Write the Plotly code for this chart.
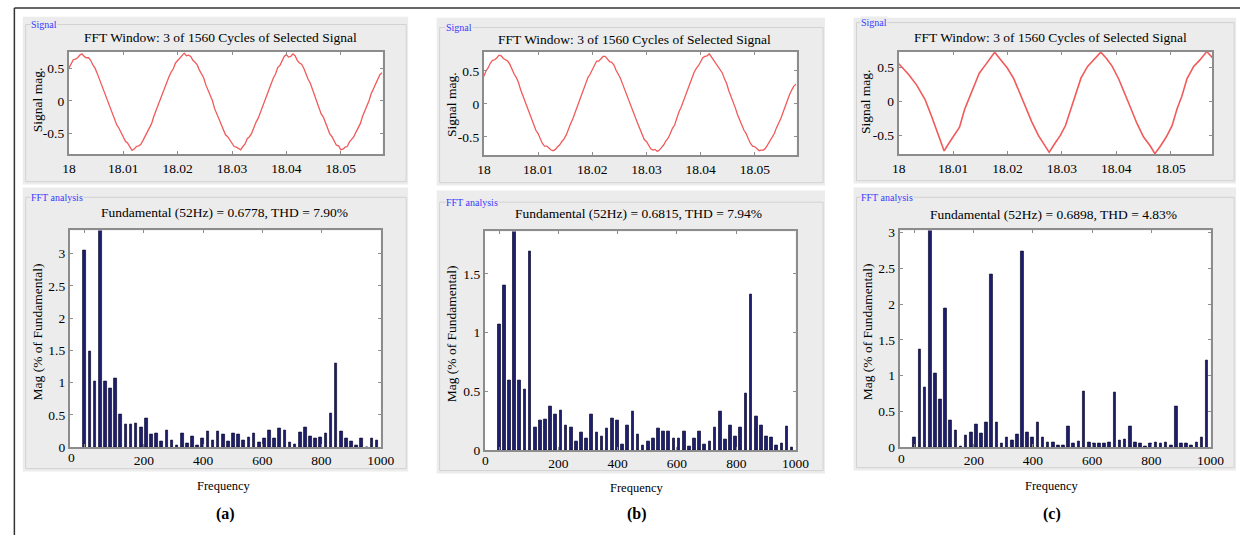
import plotly.graph_objects as go

W, H = 1254, 543
SERIF = "Liberation Serif"

# ---------------------------------------------------------------- data
# FFT bins: a 3-cycle window at 52 Hz gives a resolution of 52/3 Hz
BIN_HZ = 52 / 3
freq_hz = [k * BIN_HZ for k in range(58)]

# Harmonic magnitude, % of fundamental (bin 3 is the 52 Hz fundamental itself)
mag_a = [3.05, 1.48, 1.02, 100, 1.02, 0.91, 1.06, 0.50, 0.35, 0.35, 0.36, 0.31,
         0.45, 0.20, 0.21, 0.09, 0.26, 0.11, 0.03, 0.22, 0.05, 0.16, 0.02, 0.13,
         0.25, 0.10, 0.24, 0.19, 0.09, 0.22, 0.19, 0.10, 0.15, 0.21, 0.08, 0.13,
         0.26, 0.13, 0.29, 0.26, 0.08, 0.04, 0.23, 0.31, 0.17, 0.14, 0.15, 0.21,
         0.52, 1.30, 0.24, 0.14, 0.09, 0.03, 0.14, 0.00, 0.13, 0.11]
mag_b = [1.07, 1.40, 0.59, 100, 0.59, 0.52, 1.69, 0.19, 0.25, 0.26, 0.37, 0.30,
         0.34, 0.21, 0.19, 0.07, 0.15, 0.10, 0.30, 0.15, 0.12, 0.18, 0.27, 0.25,
         0.05, 0.21, 0.33, 0.13, 0.04, 0.07, 0.10, 0.18, 0.16, 0.16, 0.10, 0.10,
         0.16, 0.03, 0.10, 0.16, 0.05, 0.07, 0.19, 0.33, 0.09, 0.21, 0.12, 0.19,
         0.48, 1.32, 0.29, 0.21, 0.12, 0.11, 0.04, 0.06, 0.20, 0.02]
mag_c = [0.14, 1.37, 0.84, 100, 1.03, 0.67, 1.94, 0.37, 0.23, 0.01, 0.16, 0.20,
         0.32, 0.19, 0.35, 2.42, 0.35, 0.05, 0.13, 0.10, 0.18, 2.74, 0.20, 0.14,
         0.34, 0.14, 0.06, 0.07, 0.02, 0.02, 0.29, 0.05, 0.08, 0.78, 0.07, 0.05,
         0.05, 0.05, 0.07, 0.77, 0.09, 0.11, 0.29, 0.06, 0.05, 0.01, 0.05, 0.07,
         0.05, 0.07, 0.02, 0.57, 0.05, 0.05, 0.03, 0.06, 0.14, 1.21]

# Measured signals, sampled every 0.4 ms from t = 18 s
T0, DT = 18.0, 0.0004
sig_a = [0.50, 0.57, 0.63, 0.64, 0.66, 0.70, 0.72, 0.68, 0.66, 0.66, 0.62, 0.55,
         0.50, 0.42, 0.33, 0.26, 0.18, 0.07, -0.02, -0.09, -0.18, -0.29, -0.37, -0.42,
         -0.49, -0.57, -0.62, -0.65, -0.71, -0.76, -0.74, -0.70, -0.69, -0.67, -0.61, -0.55,
         -0.47, -0.42, -0.35, -0.24, -0.15, -0.08, 0.01, 0.12, 0.20, 0.27, 0.37, 0.44,
         0.49, 0.58, 0.62, 0.66, 0.70, 0.73, 0.69, 0.70, 0.68, 0.62, 0.59, 0.55,
         0.47, 0.40, 0.35, 0.24, 0.16, 0.09, 0.00, -0.12, -0.20, -0.26, -0.35, -0.45,
         -0.52, -0.55, -0.60, -0.67, -0.70, -0.71, -0.73, -0.75, -0.70, -0.66, -0.58, -0.55,
         -0.50, -0.40, -0.33, -0.27, -0.18, -0.07, 0.02, 0.08, 0.18, 0.28, 0.35, 0.41,
         0.51, 0.54, 0.60, 0.68, 0.71, 0.67, 0.68, 0.72, 0.69, 0.62, 0.58, 0.56,
         0.50, 0.40, 0.33, 0.27, 0.18, 0.07, -0.01, -0.12, -0.20, -0.25, -0.34, -0.44,
         -0.51, -0.55, -0.62, -0.68, -0.69, -0.75, -0.74, -0.71, -0.70, -0.63, -0.59, -0.55,
         -0.48, -0.40, -0.35, -0.24, -0.16, -0.09, 0.00, 0.11, 0.19, 0.25, 0.34, 0.40,
         0.43]
sig_b = [0.42, 0.50, 0.55, 0.62, 0.66, 0.67, 0.70, 0.74, 0.73, 0.69, 0.67, 0.65,
         0.60, 0.51, 0.45, 0.40, 0.32, 0.21, 0.12, 0.04, -0.06, -0.13, -0.22, -0.33,
         -0.40, -0.45, -0.52, -0.60, -0.64, -0.64, -0.67, -0.70, -0.71, -0.69, -0.65, -0.62,
         -0.57, -0.53, -0.47, -0.37, -0.30, -0.23, -0.14, -0.03, 0.06, 0.13, 0.22, 0.33,
         0.40, 0.45, 0.52, 0.60, 0.65, 0.65, 0.68, 0.72, 0.72, 0.67, 0.64, 0.63,
         0.59, 0.51, 0.45, 0.39, 0.30, 0.21, 0.14, 0.03, -0.05, -0.15, -0.24, -0.30,
         -0.38, -0.47, -0.54, -0.57, -0.62, -0.68, -0.70, -0.69, -0.72, -0.70, -0.66, -0.62,
         -0.56, -0.52, -0.45, -0.37, -0.32, -0.21, -0.12, -0.05, 0.04, 0.15, 0.24, 0.30,
         0.39, 0.48, 0.54, 0.58, 0.64, 0.70, 0.72, 0.73, 0.76, 0.71, 0.68, 0.63,
         0.57, 0.53, 0.47, 0.38, 0.31, 0.20, 0.12, 0.04, -0.06, -0.16, -0.23, -0.32,
         -0.40, -0.45, -0.53, -0.60, -0.64, -0.65, -0.68, -0.71, -0.70, -0.70, -0.67, -0.62,
         -0.57, -0.52, -0.45, -0.36, -0.30, -0.22, -0.13, -0.03, 0.05, 0.14, 0.21, 0.27,
         0.30]
t_a = [T0 + k * DT for k in range(len(sig_a))]
t_b = [T0 + k * DT for k in range(len(sig_b))]

# Filtered signal: near-triangular, sampled at its corners
t_c = [18.00000, 18.00181, 18.00332, 18.00483, 18.00604, 18.00713, 18.00785, 18.00834,
       18.00918, 18.01015, 18.01117, 18.01208, 18.01281, 18.01377, 18.01480, 18.01601,
       18.01691, 18.01764, 18.01873, 18.01993, 18.02114, 18.02235, 18.02325, 18.02446,
       18.02567, 18.02669, 18.02766, 18.02869, 18.02972, 18.03068, 18.03171, 18.03262,
       18.03352, 18.03473, 18.03594, 18.03715, 18.03817, 18.03926, 18.04047, 18.04168,
       18.04258, 18.04379, 18.04500, 18.04620, 18.04711, 18.04820, 18.04922, 18.05025,
       18.05122, 18.05206, 18.05303, 18.05424, 18.05544, 18.05665, 18.05768]
sig_c = [0.56, 0.40, 0.24, 0.03, -0.22, -0.45, -0.62, -0.73,
         -0.62, -0.50, -0.38, -0.12, 0.03, 0.22, 0.42, 0.55,
         0.64, 0.73, 0.62, 0.50, 0.34, 0.10, -0.05, -0.30,
         -0.50, -0.62, -0.75, -0.62, -0.50, -0.35, -0.10, 0.10,
         0.35, 0.52, 0.62, 0.73, 0.64, 0.52, 0.33, 0.08,
         -0.08, -0.32, -0.52, -0.65, -0.77, -0.65, -0.52, -0.36,
         -0.10, 0.08, 0.34, 0.52, 0.62, 0.74, 0.65]

fundamental = ["0.6778", "0.6815", "0.6898"]
thd = ["7.90%", "7.94%", "4.83%"]
panel_tags = ["(a)", "(b)", "(c)"]

sig_ranges = [[-0.82, 0.75], [-0.78, 0.79], [-0.78, 0.735]]
fft_ymax = [3.36, 1.86, 3.03]
fft_yticks = [[0, 0.5, 1, 1.5, 2, 2.5, 3], [0, 0.5, 1, 1.5], [0, 0.5, 1, 1.5, 2, 2.5, 3]]

# ---------------------------------------------------------------- layout geometry (px)
panels = [
    dict(box=(16, 408), sig_box=(12, 184), fft_box=(187, 478),
         sig=(63, 382, 48, 153), fft=(64, 380, 231, 453), fft_x=[-50, 1000],
         lab_sig=(38, 20), lab_fft=(51, 197), title_sig=(217, 33), title_fft=(221, 213),
         ytit_sig=(31, 97), ytit_fft=(32, 335), freq=(221, 493), tag=(222, 521), zero=(66, 464)),
    dict(box=(437, 832), sig_box=(13, 185), fft_box=(190, 480),
         sig=(485, 803, 48, 154), fft=(486, 802, 232, 456), fft_x=[-48, 1000],
         lab_sig=(460, 23), lab_fft=(473, 202), title_sig=(638, 35), title_fft=(642, 214),
         ytit_sig=(452, 102), ytit_fft=(453, 337), freq=(641, 495), tag=(641, 521), zero=(487, 467)),
    dict(box=(861, 1250), sig_box=(13, 183), fft_box=(187, 477),
         sig=(907, 1226, 48, 153), fft=(908, 1224, 231, 453), fft_x=[-50, 1000],
         lab_sig=(882, 18), lab_fft=(895, 197), title_sig=(1061, 33), title_fft=(1064, 215),
         ytit_sig=(873, 99), ytit_fft=(876, 335), freq=(1063, 493), tag=(1063, 521), zero=(910, 465)),
]


def px(x):
    return x / W


def py(y):
    return 1 - y / H


FRAME = "#8c8c8c"
PANEL_BG = "#ececec"
GROUP_LINE = "#d2d2d2"


def axis_style(**kw):
    d = dict(showline=True, linecolor=FRAME, linewidth=2, mirror="ticks",
             ticks="inside", ticklen=3, tickwidth=1, tickcolor=FRAME,
             showgrid=False, zeroline=False, fixedrange=True,
             tickfont=dict(family=SERIF, size=13.5, color="black"))
    d.update(kw)
    return d


fig = go.Figure()
shapes, annotations = [], []
layout_axes = {}

signals = [(t_a, sig_a, 1.3), (t_b, sig_b, 1.3), (t_c, sig_c, 1.6)]
mags = [mag_a, mag_b, mag_c]


def note(text, pos, size=13.5, color="black", angle=0, bg=None):
    ann = dict(text=text, x=px(pos[0]), y=py(pos[1]), xref="paper", yref="paper",
               showarrow=False, xanchor="center", yanchor="middle", textangle=angle,
               font=dict(family=SERIF, size=size, color=color))
    if bg:
        ann.update(bgcolor=bg, borderpad=0)
    annotations.append(ann)


for i, p in enumerate(panels):
    n_sig, n_fft = 2 * i + 1, 2 * i + 2
    xs = "x" if n_sig == 1 else f"x{n_sig}"
    ys = "y" if n_sig == 1 else f"y{n_sig}"
    xf, yf = f"x{n_fft}", f"y{n_fft}"

    # grey group boxes with etched borders
    x0, x1 = p["box"]
    for (top, bot) in (p["sig_box"], p["fft_box"]):
        shapes.append(dict(type="rect", xref="paper", yref="paper", layer="below",
                           x0=px(x0), x1=px(x1), y0=py(bot), y1=py(top),
                           fillcolor=PANEL_BG, line=dict(width=0)))
    for (top, bot), lab in ((p["sig_box"], p["lab_sig"]), (p["fft_box"], p["lab_fft"])):
        shapes.append(dict(type="rect", xref="paper", yref="paper", layer="below",
                           x0=px(x0 + 3), x1=px(x1 - 2), y0=py(bot - 3), y1=py(lab[1]),
                           fillcolor="rgba(0,0,0,0)", line=dict(color=GROUP_LINE, width=1)))
    # white plotting areas
    for (a, b, c, d) in (p["sig"], p["fft"]):
        shapes.append(dict(type="rect", xref="paper", yref="paper", layer="below",
                           x0=px(a), x1=px(b), y0=py(d), y1=py(c),
                           fillcolor="white", line=dict(width=0)))

    # signal trace
    tt, vv, lw = signals[i]
    fig.add_trace(go.Scatter(x=tt, y=vv, mode="lines", xaxis=xs, yaxis=ys,
                             line=dict(color="rgba(238,72,72,0.9)", width=lw),
                             hoverinfo="skip"))
    # FFT bars
    fig.add_trace(go.Bar(x=freq_hz, y=mags[i], width=9, xaxis=xf, yaxis=yf,
                         marker=dict(color="#1e1e6e", line=dict(color="#0a0a32", width=0.7)),
                         hoverinfo="skip"))

    a, b, c, d = p["sig"]
    layout_axes["xaxis" if n_sig == 1 else f"xaxis{n_sig}"] = axis_style(
        domain=[px(a), px(b)], anchor=ys,
        range=[18.0, 18.0577], tickvals=[18, 18.01, 18.02, 18.03, 18.04, 18.05],
        ticktext=["18", "18.01", "18.02", "18.03", "18.04", "18.05"])
    layout_axes["yaxis" if n_sig == 1 else f"yaxis{n_sig}"] = axis_style(
        domain=[py(d), py(c)], anchor=xs, range=sig_ranges[i],
        tickvals=[-0.5, 0, 0.5], ticktext=["-0.5", "0", "0.5"])

    a, b, c, d = p["fft"]
    layout_axes[f"xaxis{n_fft}"] = axis_style(
        domain=[px(a), px(b)], anchor=yf, range=p["fft_x"],
        tickvals=[0, 200, 400, 600, 800, 1000], ticktext=["", "200", "400", "600", "800", "1000"])
    yt = fft_yticks[i]
    layout_axes[f"yaxis{n_fft}"] = axis_style(
        domain=[py(d), py(c)], anchor=xf, range=[0, fft_ymax[i]],
        tickvals=yt, ticktext=[f"{v:g}" for v in yt])

    note("Signal", p["lab_sig"], size=10, color="#3a3aff", bg=PANEL_BG)
    note("FFT analysis", p["lab_fft"], size=10, color="#3a3aff", bg=PANEL_BG)
    note("FFT Window: 3 of 1560 Cycles of Selected Signal", p["title_sig"])
    note(f"Fundamental (52Hz) = {fundamental[i]}, THD = {thd[i]}", p["title_fft"])
    note("Signal mag.", p["ytit_sig"], angle=-90)
    note("Mag (% of Fundamental)", p["ytit_fft"], angle=-90)
    note("0", p["zero"])
    note("Frequency", p["freq"], size=12.5)
    note(f"<b>{panel_tags[i]}</b>", p["tag"], size=16)

# outer figure frame (left and top edges)
shapes.append(dict(type="line", xref="paper", yref="paper", x0=px(7.5), x1=px(7.5),
                   y0=0, y1=py(3), line=dict(color="#333333", width=1.5)))
shapes.append(dict(type="line", xref="paper", yref="paper", x0=px(7.5), x1=1,
                   y0=py(3), y1=py(3), line=dict(color="#333333", width=1.5)))

fig.update_layout(
    width=W, height=H, margin=dict(l=0, r=0, t=0, b=0),
    paper_bgcolor="white", plot_bgcolor="white", showlegend=False,
    bargap=0, shapes=shapes, annotations=annotations, **layout_axes)

fig.write_html("out.html", config={"displayModeBar": False})
